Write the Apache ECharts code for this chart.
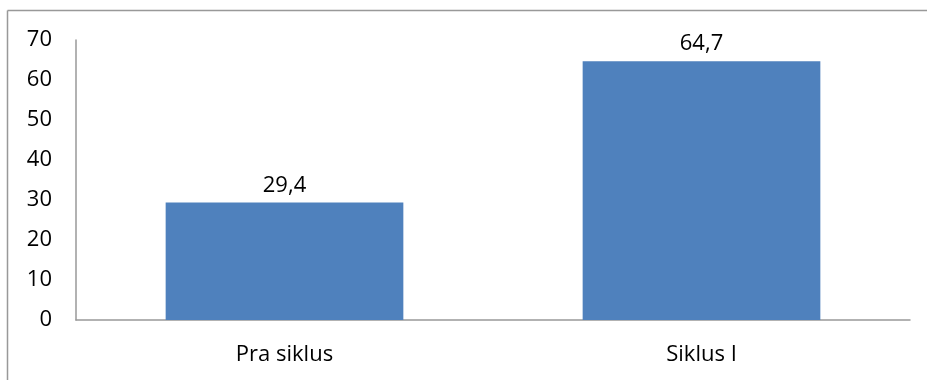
<!DOCTYPE html>
<html><head><meta charset="utf-8">
<script src="https://cdn.jsdelivr.net/npm/echarts@6/dist/echarts.min.js"></script>
<style>html,body{margin:0;padding:0;background:#fff}#c{width:927px;height:380px}</style>
</head><body><div id="c"></div>
<script>
const categories = ['Pra siklus', 'Siklus I'];
const values = [29.4, 64.7];
const yTicks = [0, 10, 20, 30, 40, 50, 60, 70];

const chart = echarts.init(document.getElementById('c'), null, {renderer: 'canvas'});
const font = '"Open Sans", "Noto Sans", sans-serif';
chart.setOption({
  animation: false,
  backgroundColor: '#fff',
  graphic: [
    {type: 'line', shape: {x1: 7.5, y1: 10.5, x2: 927, y2: 10.5}, style: {stroke: '#999', lineWidth: 1.5}},
    {type: 'line', shape: {x1: 7.5, y1: 10.5, x2: 7.5, y2: 380}, style: {stroke: '#999', lineWidth: 1.5}}
  ],
  grid: {left: 76, right: 17, top: 40, bottom: 60, containLabel: false},
  xAxis: {
    type: 'category', data: categories,
    axisLine: {lineStyle: {color: '#999', width: 1.5}},
    axisTick: {show: false},
    axisLabel: {color: '#000', fontSize: 22, fontFamily: font, margin: 24}
  },
  yAxis: {
    type: 'value', min: yTicks[0], max: yTicks[yTicks.length - 1], interval: 10,
    axisLine: {show: true, lineStyle: {color: '#999', width: 1.5}},
    axisTick: {show: false},
    splitLine: {show: false},
    axisLabel: {color: '#000', fontSize: 22, fontFamily: font, margin: 24}
  },
  series: [{
    type: 'bar', data: values, barCategoryGap: '43%',
    itemStyle: {color: '#4F81BD'},
    label: {show: true, position: 'top', distance: 6, color: '#000', fontSize: 22, fontFamily: font,
      formatter: p => String(p.value).replace('.', ',')}
  }]
});
</script></body></html>
